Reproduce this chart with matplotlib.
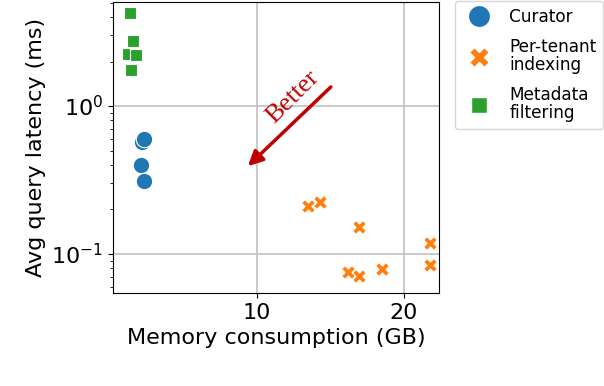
import matplotlib
matplotlib.use("Agg")
import matplotlib.pyplot as plt
from matplotlib.lines import Line2D

curator_mem = [2.18, 2.3, 2.1, 2.3]
curator_lat = [0.571, 0.60, 0.40, 0.311]

tenant_mem = [13.47, 14.29, 16.94, 21.77, 16.17, 16.96, 18.55, 21.77]
tenant_lat = [0.212, 0.225, 0.153, 0.1186, 0.0756, 0.0708, 0.0792, 0.0843]

meta_mem = [1.36, 1.56, 1.22, 1.77, 1.43]
meta_lat = [4.25, 2.75, 2.25, 2.21, 1.75]

labels = ["Curator", "Per-tenant\nindexing", "Metadata\nfiltering"]
colors = ["#1f77b4", "#ff7f0e", "#2ca02c"]

plt.rcParams['font.family'] = ['DejaVu Sans']
fig = plt.figure(figsize=(6.04, 3.86), dpi=100)
ax = fig.add_axes([113/604, 1-293/386, (439-113)/604, (293-2)/386])

ax.scatter(curator_mem, curator_lat, s=140, marker='o', c=colors[0], edgecolors='white', linewidths=0.8, zorder=3)
ax.scatter(tenant_mem, tenant_lat, s=100, marker='X', c=colors[1], edgecolors='white', linewidths=0.8, zorder=3)
ax.scatter(meta_mem, meta_lat, s=85, marker='s', c=colors[2], edgecolors='white', linewidths=0.8, zorder=3)

ax.set_yscale('log')
ax.set_xlim(0.2, 22.4)
ax.set_ylim(0.0545, 5.05)
ax.set_xticks([10, 20])
ax.grid(True, which='major', color='#c0c0c0', linewidth=1.2)
ax.set_axisbelow(True)
ax.tick_params(labelsize=16)
ax.set_xlabel("Memory consumption (GB)", fontsize=16)
ax.set_ylabel("Avg query latency (ms)", fontsize=16)

ax.annotate("", xy=(9.25, 0.381), xytext=(15.17, 1.387),
            arrowprops=dict(arrowstyle='-|>', color='#c00000', lw=2.5, mutation_scale=22))
ax.text(12.45, 1.15, "Better", color='#c00000', fontsize=19, family='Liberation Serif',
        rotation=45, ha='center', va='center')

handles = [
    Line2D([], [], marker='o', linestyle='', color=colors[0], markersize=16, markeredgecolor='white'),
    Line2D([], [], marker='X', linestyle='', color=colors[1], markersize=14, markeredgecolor='white'),
    Line2D([], [], marker='s', linestyle='', color=colors[2], markersize=11, markeredgecolor='white'),
]
leg = fig.legend(handles, labels, loc='upper left', bbox_to_anchor=(455/604, 1 - 1/386), fontsize=12.2,
                 frameon=True, fancybox=True, handletextpad=0.8, borderpad=0.4, labelspacing=0.72,
                 borderaxespad=0.0)
for t in leg.get_texts():
    t.set_linespacing(1.0)

fig.savefig("out.png", dpi=100)
